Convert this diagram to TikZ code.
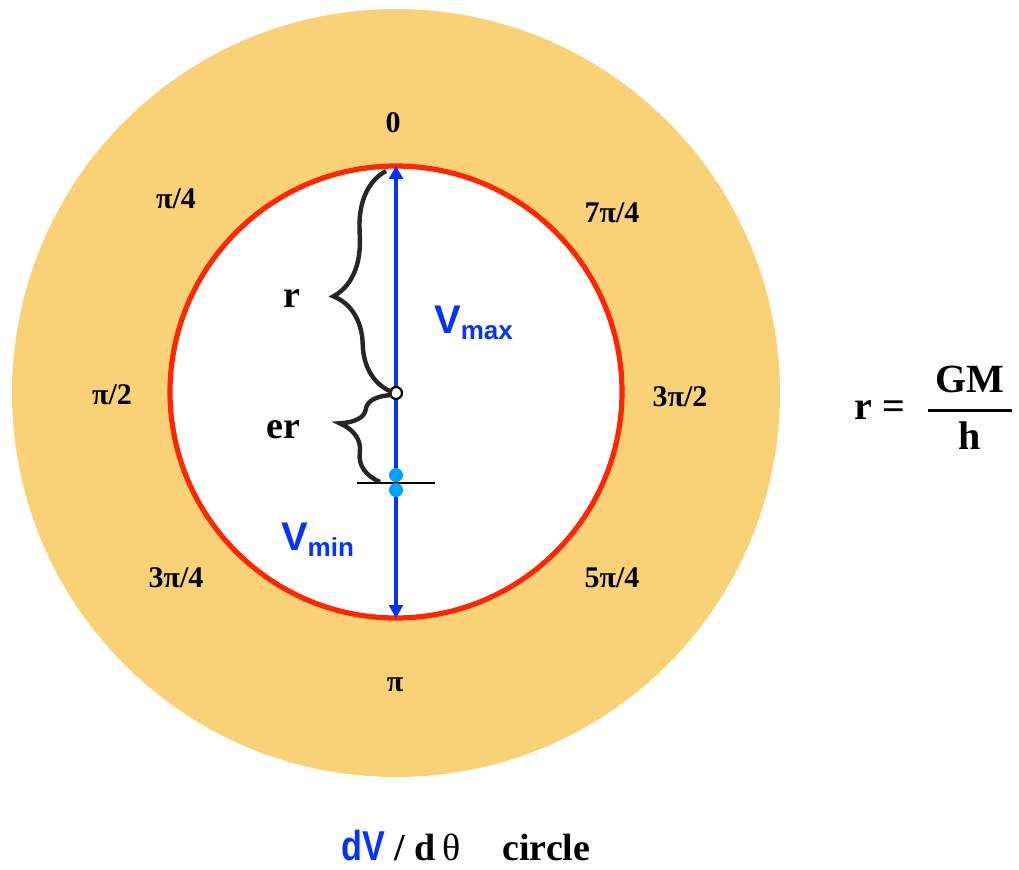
\documentclass[tikz,border=0pt]{standalone}
\usepackage{fontspec}
\setmainfont{Liberation Serif}
\setsansfont{Liberation Sans}
\usepackage{amsmath}
\usepackage{graphicx}
\usetikzlibrary{arrows.meta,decorations.pathreplacing}
\definecolor{sand}{RGB}{249,210,120}
\definecolor{flame}{RGB}{255,38,0}
\definecolor{royal}{RGB}{4,51,255}
\definecolor{sky}{RGB}{0,162,255}
\tikzset{
  >={Triangle[length=6.5pt,width=7pt]},
  ang/.style={font=\fontsize{15}{17}\selectfont\bfseries,inner sep=0pt},
  lbl/.style={font=\fontsize{19}{22}\selectfont\bfseries,inner sep=0pt},
  vel/.style={text=royal,font=\fontsize{20}{24}\selectfont\sffamily\bfseries,inner sep=0pt},
  curly/.style={decorate,decoration={brace,amplitude=#1},line width=2.2pt,black!85},
  hub/.style={circle,draw=black,fill=white,line width=1.1pt,minimum size=6pt,inner sep=0pt},
  spot/.style={circle,fill=sky,minimum size=7pt,inner sep=0pt},
}
\begin{document}
\begin{tikzpicture}[x=0.5pt,y=-0.5pt]
  \useasboundingbox (0,0) rectangle (1019,869);
  % rings
  \fill[sand] (396,393) circle (192pt);
  \draw[flame,fill=white,line width=2.6pt] (396,392) circle (113pt);
  % velocity axis
  \coordinate (top) at (396,166);
  \coordinate (bot) at (396,618);
  \draw[<->,royal,line width=1.6pt] (top) -- (bot);
  \coordinate (tl) at (357,483);
  \coordinate (tr) at (435,483);
  \draw[line width=0.6pt] (tl) -- (tr);
  \node[hub] (centre) at (396,393) {};
  \node[spot] (p1) at (396,475) {};
  \node[spot] (p2) at (396,490) {};
  % braces
  \coordinate (rtop) at (386,171);
  \coordinate (rbot) at (392,392);
  \coordinate (etop) at (392,395);
  \coordinate (ebot) at (380,482);
  \draw[curly=28pt,decoration={aspect=0.44}] (rbot) -- (rtop);
  \draw[curly=24pt,decoration={aspect=0.6}] (ebot) -- (etop);
  \node[lbl] (rl) at (292,298) {r};
  \node[lbl] (erl) at (283,430) {er};
  % velocities
  \node[vel] (vmax) at (474,323) {V\textsubscript{\fontsize{13}{14}\selectfont max}};
  \node[vel] (vmin) at (318,540) {V\textsubscript{\fontsize{13}{14}\selectfont min}};
  % angles
  \node[ang] (a0) at (393,123) {0};
  \node[ang] (a1) at (176,199) {π/4};
  \node[ang] (a2) at (112,395) {π/2};
  \node[ang] (a3) at (176,578) {3π/4};
  \node[ang] (a4) at (395,685) {π};
  \node[ang] (a5) at (612,578) {5π/4};
  \node[ang] (a6) at (680,397) {3π/2};
  \node[ang] (a7) at (612,213) {7π/4};
  % formula
  \node[lbl,font=\fontsize{20}{24}\selectfont\bfseries] (req) at (880,410) {r =};
  \node[inner sep=0pt] (frac) at (970,408)
    {\fontsize{20}{24}\selectfont\bfseries$\genfrac{}{}{1.3pt}{0}{\text{\hspace{4pt}GM\hspace{4pt}}}{\text{h}}$};
  % caption
  \node[inner sep=0pt,font=\fontsize{19}{22}\selectfont\bfseries] (title) at (466,846)
    {\textcolor{royal}{\sffamily\bfseries\scalebox{0.9}[1.1]{dV}} / d\,{\mdseries θ}\hspace{1.1em}circle};
\end{tikzpicture}
\end{document}
